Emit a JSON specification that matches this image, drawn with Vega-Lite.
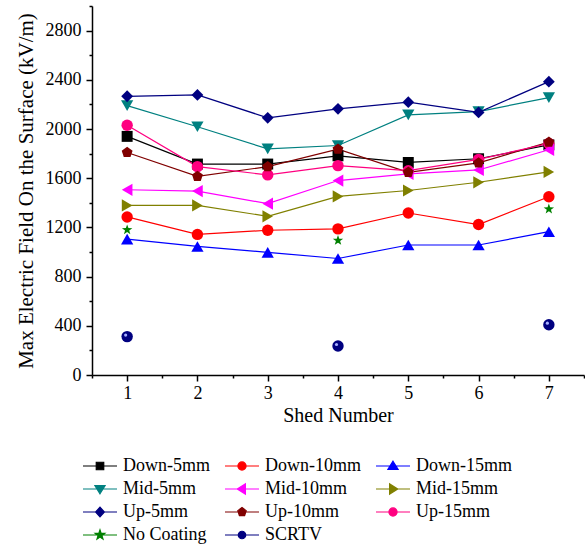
{
  "$schema": "https://vega.github.io/schema/vega-lite/v6.json",
  "width": 492,
  "height": 369,
  "padding": {"left": 15, "top": -3, "right": 0, "bottom": 0},
  "background": "white",
  "config": {
    "font": "Liberation Serif",
    "view": {"stroke": null},
    "axis": {
      "grid": false,
      "domainColor": "black",
      "domainWidth": 1.5,
      "tickColor": "black",
      "tickWidth": 1.5,
      "labelColor": "black",
      "labelFont": "Liberation Serif",
      "labelFontSize": 18,
      "titleFont": "Liberation Serif",
      "titleFontSize": 20,
      "titleFontWeight": "normal",
      "titleColor": "black",
      "labelOverlap": false
    }
  },
  "data": {
    "values": [
      {"series": "Down-5mm", "shed": 1, "value": 1940},
      {"series": "Down-5mm", "shed": 2, "value": 1715},
      {"series": "Down-5mm", "shed": 3, "value": 1715},
      {"series": "Down-5mm", "shed": 4, "value": 1782},
      {"series": "Down-5mm", "shed": 5, "value": 1728},
      {"series": "Down-5mm", "shed": 6, "value": 1758},
      {"series": "Down-5mm", "shed": 7, "value": 1871},
      {"series": "Down-10mm", "shed": 1, "value": 1285},
      {"series": "Down-10mm", "shed": 2, "value": 1143},
      {"series": "Down-10mm", "shed": 3, "value": 1177},
      {"series": "Down-10mm", "shed": 4, "value": 1188},
      {"series": "Down-10mm", "shed": 5, "value": 1317},
      {"series": "Down-10mm", "shed": 6, "value": 1223},
      {"series": "Down-10mm", "shed": 7, "value": 1449},
      {"series": "Down-15mm", "shed": 1, "value": 1105},
      {"series": "Down-15mm", "shed": 2, "value": 1045},
      {"series": "Down-15mm", "shed": 3, "value": 997},
      {"series": "Down-15mm", "shed": 4, "value": 947},
      {"series": "Down-15mm", "shed": 5, "value": 1057},
      {"series": "Down-15mm", "shed": 6, "value": 1057},
      {"series": "Down-15mm", "shed": 7, "value": 1165},
      {"series": "Mid-5mm", "shed": 1, "value": 2190},
      {"series": "Mid-5mm", "shed": 2, "value": 2018},
      {"series": "Mid-5mm", "shed": 3, "value": 1838},
      {"series": "Mid-5mm", "shed": 4, "value": 1866},
      {"series": "Mid-5mm", "shed": 5, "value": 2115},
      {"series": "Mid-5mm", "shed": 6, "value": 2142},
      {"series": "Mid-5mm", "shed": 7, "value": 2255},
      {"series": "Mid-10mm", "shed": 1, "value": 1506},
      {"series": "Mid-10mm", "shed": 2, "value": 1495},
      {"series": "Mid-10mm", "shed": 3, "value": 1393},
      {"series": "Mid-10mm", "shed": 4, "value": 1581},
      {"series": "Mid-10mm", "shed": 5, "value": 1635},
      {"series": "Mid-10mm", "shed": 6, "value": 1667},
      {"series": "Mid-10mm", "shed": 7, "value": 1831},
      {"series": "Mid-15mm", "shed": 1, "value": 1379},
      {"series": "Mid-15mm", "shed": 2, "value": 1379},
      {"series": "Mid-15mm", "shed": 3, "value": 1290},
      {"series": "Mid-15mm", "shed": 4, "value": 1452},
      {"series": "Mid-15mm", "shed": 5, "value": 1500},
      {"series": "Mid-15mm", "shed": 6, "value": 1567},
      {"series": "Mid-15mm", "shed": 7, "value": 1651},
      {"series": "Up-5mm", "shed": 1, "value": 2266},
      {"series": "Up-5mm", "shed": 2, "value": 2277},
      {"series": "Up-5mm", "shed": 3, "value": 2091},
      {"series": "Up-5mm", "shed": 4, "value": 2164},
      {"series": "Up-5mm", "shed": 5, "value": 2218},
      {"series": "Up-5mm", "shed": 6, "value": 2135},
      {"series": "Up-5mm", "shed": 7, "value": 2385},
      {"series": "Up-10mm", "shed": 1, "value": 1809},
      {"series": "Up-10mm", "shed": 2, "value": 1615},
      {"series": "Up-10mm", "shed": 3, "value": 1694},
      {"series": "Up-10mm", "shed": 4, "value": 1836},
      {"series": "Up-10mm", "shed": 5, "value": 1648},
      {"series": "Up-10mm", "shed": 6, "value": 1724},
      {"series": "Up-10mm", "shed": 7, "value": 1893},
      {"series": "Up-15mm", "shed": 1, "value": 2030},
      {"series": "Up-15mm", "shed": 2, "value": 1694},
      {"series": "Up-15mm", "shed": 3, "value": 1627},
      {"series": "Up-15mm", "shed": 4, "value": 1702},
      {"series": "Up-15mm", "shed": 5, "value": 1661},
      {"series": "Up-15mm", "shed": 6, "value": 1753},
      {"series": "Up-15mm", "shed": 7, "value": 1882},
      {"series": "No Coating", "shed": 1, "value": 1180},
      {"series": "No Coating", "shed": 4, "value": 1094},
      {"series": "No Coating", "shed": 7, "value": 1349},
      {"series": "SCRTV", "shed": 1, "value": 312},
      {"series": "SCRTV", "shed": 4, "value": 236},
      {"series": "SCRTV", "shed": 7, "value": 409}
    ]
  },
  "encoding": {
    "x": {
      "field": "shed",
      "type": "quantitative",
      "title": "Shed Number",
      "scale": {"domain": [0.5, 7.5], "nice": false, "zero": false},
      "axis": {
        "values": [0.5, 1, 1.5, 2, 2.5, 3, 3.5, 4, 4.5, 5, 5.5, 6, 6.5, 7, 7.5],
        "format": ".1f",
        "labelExpr": "datum.value % 1 === 0 ? format(datum.value, 'd') : ''",
        "tickSize": {"condition": {"test": "datum.value % 1 === 0", "value": 6}, "value": 3},
        "labelPadding": 3,
        "titlePadding": 3
      }
    },
    "y": {
      "field": "value",
      "type": "quantitative",
      "title": "Max Electric Field On the Surface (kV/m)",
      "scale": {"domain": [0, 3000], "nice": false},
      "axis": {
        "values": [0, 200, 400, 600, 800, 1000, 1200, 1400, 1600, 1800, 2000, 2200, 2400, 2600, 2800, 3000],
        "format": "d",
        "labelExpr": "datum.value % 400 === 0 && datum.value <= 2800 ? datum.label : ''",
        "tickSize": {"condition": {"test": "datum.value % 400 === 0", "value": 6}, "value": 3},
        "labelPadding": 5,
        "titlePadding": 9,
        "titleFontSize": 21
      }
    },
    "color": {
      "field": "series",
      "type": "nominal",
      "scale": {
        "domain": ["Down-5mm", "Down-10mm", "Down-15mm", "Mid-5mm", "Mid-10mm", "Mid-15mm", "Up-5mm", "Up-10mm", "Up-15mm", "No Coating", "SCRTV"],
        "range": ["#000000", "#FF0000", "#0000FF", "#008080", "#FF00FF", "#808000", "#000080", "#800000", "#FF0080", "#008000", "#000080"]
      },
      "legend": {
        "title": null,
        "orient": "none",
        "legendX": -10,
        "legendY": 452,
        "columns": 3,
        "direction": "horizontal",
        "symbolSize": 1156,
        "symbolStrokeWidth": 1.2,
        "symbolOpacity": 1,
        "symbolStrokeColor": {"expr": "scale('color', datum.value)"},
        "symbolFillColor": {"expr": "scale('color', datum.value)"},
        "symbolType": {"expr": "datum.value === 'Down-5mm' ? 'M-1,0H1M-0.22,-0.22H0.22V0.22H-0.22Z' : datum.value === 'Down-10mm' || datum.value === 'Up-15mm' ? 'M-1,0H1M-0.24,0A0.24,0.24 0 1,0 0.24,0A0.24,0.24 0 1,0 -0.24,0Z' : datum.value === 'Down-15mm' ? 'M-1,0H1M0,-0.28L0.3,0.2L-0.3,0.2Z' : datum.value === 'Mid-5mm' ? 'M-1,0H1M0,0.28L0.3,-0.2L-0.3,-0.2Z' : datum.value === 'Mid-10mm' ? 'M-1,0H1M-0.28,0L0.2,-0.3L0.2,0.3Z' : datum.value === 'Mid-15mm' ? 'M-1,0H1M0.28,0L-0.2,-0.3L-0.2,0.3Z' : datum.value === 'Up-5mm' ? 'M-1,0H1M0,-0.28L0.26,0L0,0.28L-0.26,0Z' : datum.value === 'Up-10mm' ? 'M-1,0H1M0,-0.26L0.247,-0.08L0.153,0.21L-0.153,0.21L-0.247,-0.08Z' : datum.value === 'No Coating' ? 'M-1,0H1M0,-0.3L0.071,-0.098L0.285,-0.093L0.116,0.038L0.176,0.243L0,0.12L-0.176,0.243L-0.116,0.038L-0.285,-0.093L-0.071,-0.098Z' : 'M-1,0H1M-0.22,0A0.22,0.22 0 1,0 0.22,0A0.22,0.22 0 1,0 -0.22,0Z'"},
        "clipHeight": 16,
        "rowPadding": 5,
        "columnPadding": 14,
        "labelOffset": 5,
        "labelFont": "Liberation Serif",
        "labelFontSize": 18,
        "labelColor": "black",
        "labelLimit": 200
      }
    }
  },
  "layer": [
    {
      "transform": [{"filter": "datum.series !== 'No Coating' && datum.series !== 'SCRTV'"}],
      "mark": {"type": "line", "strokeWidth": 1.2},
      "encoding": {"detail": {"field": "series"}}
    },
    {
      "transform": [{"filter": {"field": "series", "oneOf": ["Down-5mm"]}}],
      "mark": {"type": "point", "filled": true, "size": 120, "opacity": 1, "shape": "square"}
    },
    {
      "transform": [{"filter": {"field": "series", "oneOf": ["Down-10mm", "Up-15mm", "SCRTV"]}}],
      "mark": {"type": "point", "filled": true, "size": 130, "opacity": 1, "shape": "circle"}
    },
    {
      "transform": [{"filter": {"field": "series", "oneOf": ["Down-15mm"]}}],
      "mark": {"type": "point", "filled": true, "size": 150, "opacity": 1, "shape": "triangle-up"}
    },
    {
      "transform": [{"filter": {"field": "series", "oneOf": ["Mid-5mm"]}}],
      "mark": {"type": "point", "filled": true, "size": 150, "opacity": 1, "shape": "triangle-down"}
    },
    {
      "transform": [{"filter": {"field": "series", "oneOf": ["Mid-10mm"]}}],
      "mark": {"type": "point", "filled": true, "size": 150, "opacity": 1, "shape": "triangle-left"}
    },
    {
      "transform": [{"filter": {"field": "series", "oneOf": ["Mid-15mm"]}}],
      "mark": {"type": "point", "filled": true, "size": 150, "opacity": 1, "shape": "triangle-right"}
    },
    {
      "transform": [{"filter": {"field": "series", "oneOf": ["Up-5mm"]}}],
      "mark": {"type": "point", "filled": true, "size": 140, "opacity": 1, "shape": "diamond"}
    },
    {
      "transform": [{"filter": {"field": "series", "oneOf": ["Up-10mm"]}}],
      "mark": {"type": "point", "filled": true, "size": 130, "opacity": 1, "shape": "M0,-1L0.951,-0.309L0.588,0.809L-0.588,0.809L-0.951,-0.309Z"}
    },
    {
      "transform": [{"filter": {"field": "series", "oneOf": ["No Coating"]}}],
      "mark": {"type": "point", "filled": true, "size": 120, "opacity": 1, "shape": "M0,-1L0.235,-0.324L0.951,-0.309L0.38,0.124L0.588,0.809L0,0.4L-0.588,0.809L-0.38,0.124L-0.951,-0.309L-0.235,-0.324Z"}
    },
    {
      "transform": [{"filter": {"field": "series", "oneOf": ["SCRTV"]}}],
      "mark": {"type": "point", "filled": true, "size": 10, "opacity": 1, "shape": "circle", "xOffset": -1.5, "yOffset": -1.5},
      "encoding": {"color": {"value": "#a8b0ff"}}
    }
  ]
}
